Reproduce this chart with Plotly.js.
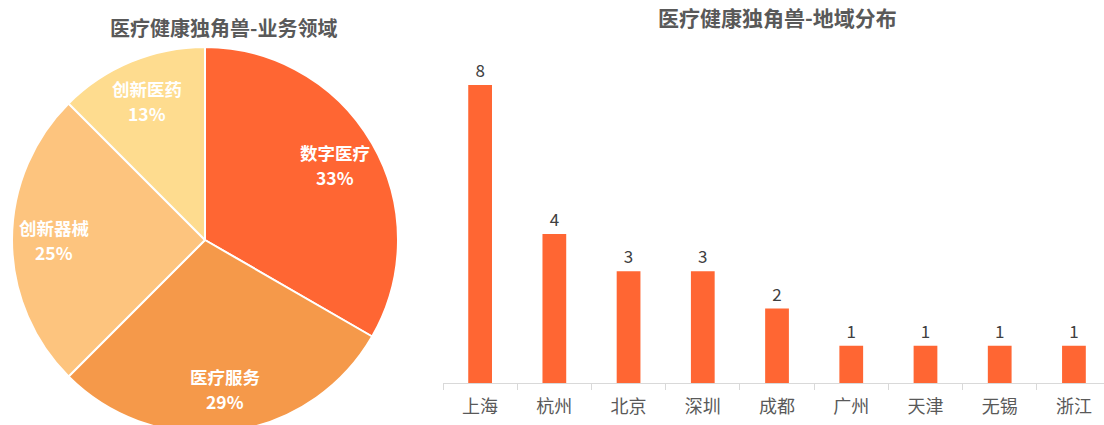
<!DOCTYPE html>
<html>
<head>
<meta charset="utf-8">
<script src="https://cdn.plot.ly/plotly-3.0.1.min.js"></script>
<style>
html,body{margin:0;padding:0;overflow:hidden;background:#fff;}
#chart{width:1104px;height:450px;}
</style>
</head>
<body>
<div id="chart"></div>
<script>
// Pie data: business areas (counts of unicorns)
const pieLabels = ['数字医疗', '医疗服务', '创新器械', '创新医药'];
const pieValues = [8, 7, 6, 3];
const pieColors = ['#FF6633', '#F5994A', '#FDC47E', '#FEDC8F'];

// Bar data: regional distribution
const cities = ['上海', '杭州', '北京', '深圳', '成都', '广州', '天津', '无锡', '浙江'];
const cityCounts = [8, 4, 3, 3, 2, 1, 1, 1, 1];

const pieTitle = '医疗健康独角兽-业务领域';
const barTitle = '医疗健康独角兽-地域分布';

const W = 1104, H = 450;
const CJK = '"Noto Sans CJK SC", "Noto Sans", sans-serif';

// pie domain (paper fractions)
const pieDom = {x: [12 / W, 398 / W], y: [(H - 433) / H, (H - 47) / H]};

const pie = {
  type: 'pie',
  labels: pieLabels,
  values: pieValues,
  sort: false,
  direction: 'clockwise',
  rotation: 0,
  marker: {colors: pieColors, line: {color: '#ffffff', width: 2}},
  textinfo: 'none',
  hoverinfo: 'label+percent',
  showlegend: false,
  domain: pieDom
};

const bar = {
  type: 'bar',
  x: cities,
  y: cityCounts,
  marker: {color: '#FF6633'},
  width: 0.32,
  text: cityCounts.map(String),
  textposition: 'outside',
  cliponaxis: false,
  textfont: {family: CJK, size: 17, color: '#404040'},
  showlegend: false,
  xaxis: 'x',
  yaxis: 'y'
};

// Slice labels placed along each slice's mid-angle (computed from the values)
const total = pieValues.reduce((a, b) => a + b, 0);
const cx = (pieDom.x[0] + pieDom.x[1]) / 2, cy = (pieDom.y[0] + pieDom.y[1]) / 2;
const R = 193; // px radius of pie
const labelFrac = 0.78;
const lineGap = 12.5; // px half-gap between name and percent lines
let cum = 0;
const sliceAnns = [];
pieValues.forEach((v, i) => {
  const mid = (cum + v / 2) / total * 2 * Math.PI;
  cum += v;
  const pct = Math.round(v / total * 100);
  const ax = cx + Math.sin(mid) * R * labelFrac / W;
  const ay = cy + Math.cos(mid) * R * labelFrac / H;
  sliceAnns.push({
    text: '<b>' + pieLabels[i] + '</b>',
    xref: 'paper', yref: 'paper', x: ax, y: ay + lineGap / H,
    xanchor: 'center', yanchor: 'middle', showarrow: false, borderpad: 0,
    font: {family: CJK, size: 17.5, color: '#ffffff'}
  });
  sliceAnns.push({
    text: '<b>' + pct + '%</b>',
    xref: 'paper', yref: 'paper', x: ax, y: ay - lineGap / H,
    xanchor: 'center', yanchor: 'middle', showarrow: false, borderpad: 0,
    font: {family: CJK, size: 17.5, color: '#ffffff'}
  });
});

const layout = {
  width: W,
  height: H,
  margin: {l: 0, r: 0, t: 0, b: 0},
  paper_bgcolor: '#ffffff',
  plot_bgcolor: '#ffffff',
  font: {family: CJK},
  xaxis: {
    domain: [443 / W, 1],
    range: [-0.5, 8.405],
    type: 'category',
    showline: true,
    linecolor: '#d9d9d9',
    linewidth: 1,
    ticks: 'outside',
    tickson: 'boundaries',
    ticklen: 6,
    tickcolor: '#d9d9d9',
    ticklabelstandoff: 7,
    showgrid: false,
    zeroline: false,
    tickfont: {family: CJK, size: 18, color: '#595959'},
    fixedrange: true
  },
  yaxis: {
    domain: [(H - 383) / H, (H - 60) / H],
    range: [0, 8.671],
    visible: false,
    showgrid: false,
    zeroline: false,
    fixedrange: true
  },
  annotations: [
    {text: '<b>' + pieTitle + '</b>', xref: 'paper', yref: 'paper', x: 223 / W, y: (H - 28) / H,
     xanchor: 'center', yanchor: 'middle', showarrow: false,
     font: {family: CJK, size: 20, color: '#595959'}},
    {text: '<b>' + barTitle + '</b>', xref: 'paper', yref: 'paper', x: 777.5 / W, y: (H - 17) / H,
     xanchor: 'center', yanchor: 'middle', showarrow: false,
     font: {family: CJK, size: 21, color: '#595959'}}
  ].concat(sliceAnns)
};

Plotly.newPlot('chart', [pie, bar], layout, {displayModeBar: false, staticPlot: true});
</script>
</body>
</html>
